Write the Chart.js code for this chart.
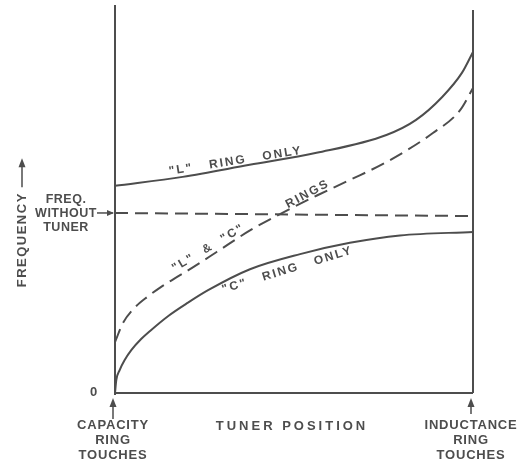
<!DOCTYPE html>
<html>
<head>
<meta charset="utf-8">
<script src="https://cdn.jsdelivr.net/npm/chart.js@4"></script>
<style>
    body { margin: 0; background: #fff; }
    #tunerChart { display: block; }
</style>
</head>
<body>
<canvas id="tunerChart" width="520" height="465"></canvas>
<script>
    /** tuner position (0 = capacity ring touches, 100 = inductance ring touches) **/
    const lRingX = [0, 18.9, 37.6, 56.3, 75.8, 84.1, 91.4, 96.9, 100];
    const lRingY = [53.4, 55.7, 58.8, 61.9, 66.5, 70.4, 76.3, 82.5, 87.9];

    const lcRingsX = [0, 2.2, 5.5, 9.2, 12.8, 16.8, 20.4, 28.5, 37.7, 46.9, 56.4, 65.6, 76.0, 88.8, 96.4, 100];
    const lcRingsY = [13.1, 18.0, 22.0, 24.9, 27.3, 29.6, 31.6, 36.4, 41.9, 46.5, 50.9, 54.9, 59.6, 67.0, 72.9, 78.6];

    const cRingX = [0, 0.36, 1.3, 2.7, 4.6, 7.3, 9.8, 14.8, 20.4, 26.0, 37.7, 51.7, 65.6, 79.6, 100];
    const cRingY = [0, 3.35, 5.9, 8.5, 11.1, 13.9, 16.0, 19.8, 23.3, 26.5, 31.9, 35.8, 38.7, 40.6, 41.5];

    const noTunerX = [0, 100];
    const noTunerY = [46.4, 45.6];

    const ink = '#4d4d4d';
    const fontName = '"Liberation Sans", Arial, sans-serif';

    function toPoints(xs, ys)
    {
        return xs.map((x, i) => ({x: x, y: ys[i]}));
    }

    function lineSet(data, dash, smooth)
    {
        return {
            data: data,
            borderColor: ink,
            borderWidth: 2,
            borderDash: dash,
            pointRadius: 0,
            fill: false,
            cubicInterpolationMode: smooth ? 'monotone' : 'default',
            tension: 0,
            clip: false,
        };
    }

    /** frame + arrows + all the lettering **/
    const labelPlugin = {
        id: 'labels',
        afterDatasetsDraw(chart) {
            const ctx = chart.ctx;
            const xs = chart.scales.x;
            const ys = chart.scales.y;
            const px = v => xs.getPixelForValue(v);
            const py = v => ys.getPixelForValue(v);

            ctx.save();
            ctx.strokeStyle = ink;
            ctx.fillStyle = ink;
            ctx.lineWidth = 2;

            // frame: left, right and bottom lines
            ctx.beginPath();
            ctx.moveTo(px(0), py(100));
            ctx.lineTo(px(0), py(0) + 2);
            ctx.moveTo(px(0), py(0));
            ctx.lineTo(px(100), py(0));
            ctx.moveTo(px(100), py(98.7));
            ctx.lineTo(px(100), py(0));
            ctx.stroke();

            upArrow(ctx, px(0) - 2, py(0) + 26, py(0) + 5);
            upArrow(ctx, px(100) - 2, py(0) + 21, py(0) + 5);
            upArrow(ctx, 22, py(53), py(60.5));

            // arrow FREQ. WITHOUT TUNER -> axis
            ctx.lineWidth = 1.5;
            ctx.beginPath();
            ctx.moveTo(px(0) - 18, py(46.4));
            ctx.lineTo(px(0) - 2, py(46.4));
            ctx.stroke();
            ctx.beginPath();
            ctx.moveTo(px(0) - 1, py(46.4));
            ctx.lineTo(px(0) - 8, py(46.4) - 3);
            ctx.lineTo(px(0) - 8, py(46.4) + 3);
            ctx.closePath();
            ctx.fill();

            ctx.textAlign = 'center';
            ctx.textBaseline = 'middle';
            ctx.font = `bold 13px ${fontName}`;
            ctx.letterSpacing = '1px';
            ctx.fillText('0', px(0) - 21, py(0) - 1);

            ctx.font = `bold 13px ${fontName}`;
            ctx.letterSpacing = '0.8px';
            ['CAPACITY', 'RING', 'TOUCHES'].forEach((t, i) => ctx.fillText(t, px(0) - 2, py(0) + 32 + i * 15));
            ['INDUCTANCE', 'RING', 'TOUCHES'].forEach((t, i) => ctx.fillText(t, px(100) - 2, py(0) + 32 + i * 15));

            ctx.font = `bold 12.5px ${fontName}`;
            ctx.letterSpacing = '0.5px';
            ['FREQ.', 'WITHOUT', 'TUNER'].forEach((t, i) => ctx.fillText(t, 66, py(46.4) - 13 + i * 14));

            ctx.font = `bold 13px ${fontName}`;
            ctx.letterSpacing = '3px';
            ctx.fillText('TUNER POSITION', px(50) - 2, py(0) + 33);

            ctx.font = `bold 13px ${fontName}`;
            ctx.letterSpacing = '1.5px';
            rotatedText(ctx, 'FREQUENCY', 22, py(39.5), -90);

            ctx.font = `bold 12px ${fontName}`;
            ctx.letterSpacing = '2px';
            rotatedText(ctx, '"L"   RING   ONLY', px(33.7), py(59.8), -9);
            rotatedText(ctx, '"L"  &  "C"', px(26.1), py(37.4), -31);
            rotatedText(ctx, 'RINGS', px(53.8), py(51.3), -28);
            rotatedText(ctx, '"C"   RING   ONLY', px(48.2), py(31.7), -17);

            ctx.restore();
        }
    };

    function upArrow(ctx, x, yFrom, yTo)
    {
        ctx.lineWidth = 1.5;
        ctx.beginPath();
        ctx.moveTo(x, yFrom);
        ctx.lineTo(x, yTo + 4);
        ctx.stroke();
        ctx.beginPath();
        ctx.moveTo(x, yTo);
        ctx.lineTo(x - 3.5, yTo + 9);
        ctx.lineTo(x + 3.5, yTo + 9);
        ctx.closePath();
        ctx.fill();
    }

    function rotatedText(ctx, text, x, y, deg)
    {
        ctx.save();
        ctx.translate(x, y);
        ctx.rotate(deg * Math.PI / 180);
        ctx.fillText(text, 0, 0);
        ctx.restore();
    }

    function initChart()
    {
        return new Chart(document.getElementById('tunerChart'), {
            type: 'line',
            data: {
                datasets: [
                    lineSet(toPoints(lRingX, lRingY), [], true),
                    lineSet(toPoints(lcRingsX, lcRingsY), [14, 7], true),
                    lineSet(toPoints(cRingX, cRingY), [], true),
                    lineSet(toPoints(noTunerX, noTunerY), [13, 7], false),
                ]
            },
            options: {
                responsive: false,
                animation: false,
                layout: {
                    padding: {left: 115, right: 47, top: 5, bottom: 72}
                },
                plugins: {
                    legend: {display: false},
                    tooltip: {enabled: false},
                },
                scales: {
                    x: {type: 'linear', min: 0, max: 100, display: false},
                    y: {type: 'linear', min: 0, max: 100, display: false},
                },
            },
            plugins: [labelPlugin],
        });
    }

    initChart();
</script>
</body>
</html>
